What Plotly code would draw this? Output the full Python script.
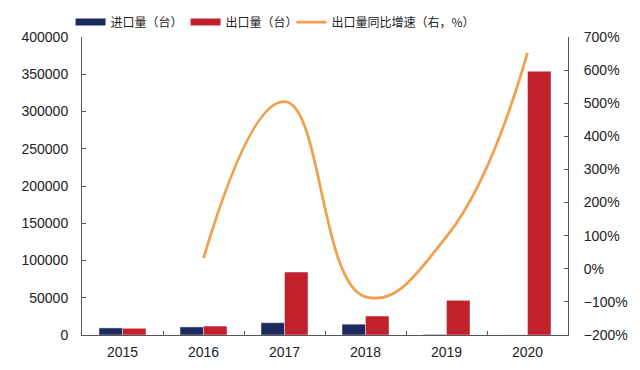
import plotly.graph_objects as go

years = ["2015", "2016", "2017", "2018", "2019", "2020"]
imports = [9500, 10800, 16500, 14500, 700, 0]
exports = [9000, 12000, 84500, 25500, 46500, 354000]
growth_years = ["2016", "2017", "2018", "2019", "2020"]
growth = [32, 505, -85, 97, 652]

navy = "#1C2A5E"
red = "#C2202B"
orange = "#F1A04F"
font_tick = "Liberation Sans, Arial, sans-serif"
font_cjk = "Noto Sans CJK SC, sans-serif"

fig = go.Figure()
fig.add_trace(go.Bar(x=years, y=imports, name="进口量（台）", marker_color=navy, showlegend=False))
fig.add_trace(go.Bar(x=years, y=exports, name="出口量（台）", marker_color=red, showlegend=False))
# legend proxies (wide rectangle swatches)
fig.add_trace(go.Scatter(x=[None], y=[None], mode="lines", name="进口量（台）",
                         line=dict(color=navy, width=7), legend="legend"))
fig.add_trace(go.Scatter(x=[None], y=[None], mode="lines", name="出口量（台）",
                         line=dict(color=red, width=7), legend="legend"))
fig.add_trace(go.Scatter(x=growth_years, y=growth, name="出口量同比增速（右，%）",
                         mode="lines", line=dict(color=orange, width=2.8, shape="spline", smoothing=1.3),
                         yaxis="y2", legend="legend2"))

legend_common = dict(orientation="h", yanchor="middle", y=1.05,
                     font=dict(family=font_cjk, size=12, color="#222"), itemwidth=30,
                     tracegroupgap=0, bgcolor="rgba(0,0,0,0)")

# page body has an 8px margin: figure is sized/offset to compensate
fig.update_layout(
    width=632, height=362,
    margin=dict(l=74, r=72, t=29, b=35, autoexpand=False),
    paper_bgcolor="white", plot_bgcolor="white",
    barmode="group", bargap=0.42, bargroupgap=0,
    showlegend=True,
    legend=dict(x=-0.0235, xanchor="left", entrywidth=70, **legend_common),
    legend2=dict(x=0.431, xanchor="left", **legend_common),
    xaxis=dict(type="category", showline=True, linecolor="#555", linewidth=1,
               ticks="inside", ticklen=4, tickcolor="#555", tickson="boundaries",
               ticklabelstandoff=4,
               tickfont=dict(family=font_tick, size=14, color="#222"),
               showgrid=False),
    yaxis=dict(range=[0, 400000], dtick=50000, showline=True, linecolor="#555", linewidth=1,
               ticks="inside", ticklen=4, tickcolor="#555", showgrid=False, zeroline=False,
               tickformat="d", ticklabelstandoff=10,
               tickfont=dict(family=font_tick, size=14, color="#222")),
    yaxis2=dict(range=[-200, 700], dtick=100, overlaying="y", side="right",
                showline=True, linecolor="#555", linewidth=1,
                ticks="inside", ticklen=4, tickcolor="#555", showgrid=False, zeroline=False,
                ticksuffix="%", ticklabelstandoff=12,
                tickfont=dict(family=font_tick, size=14, color="#222")),
)

fig.write_html("out.html")
